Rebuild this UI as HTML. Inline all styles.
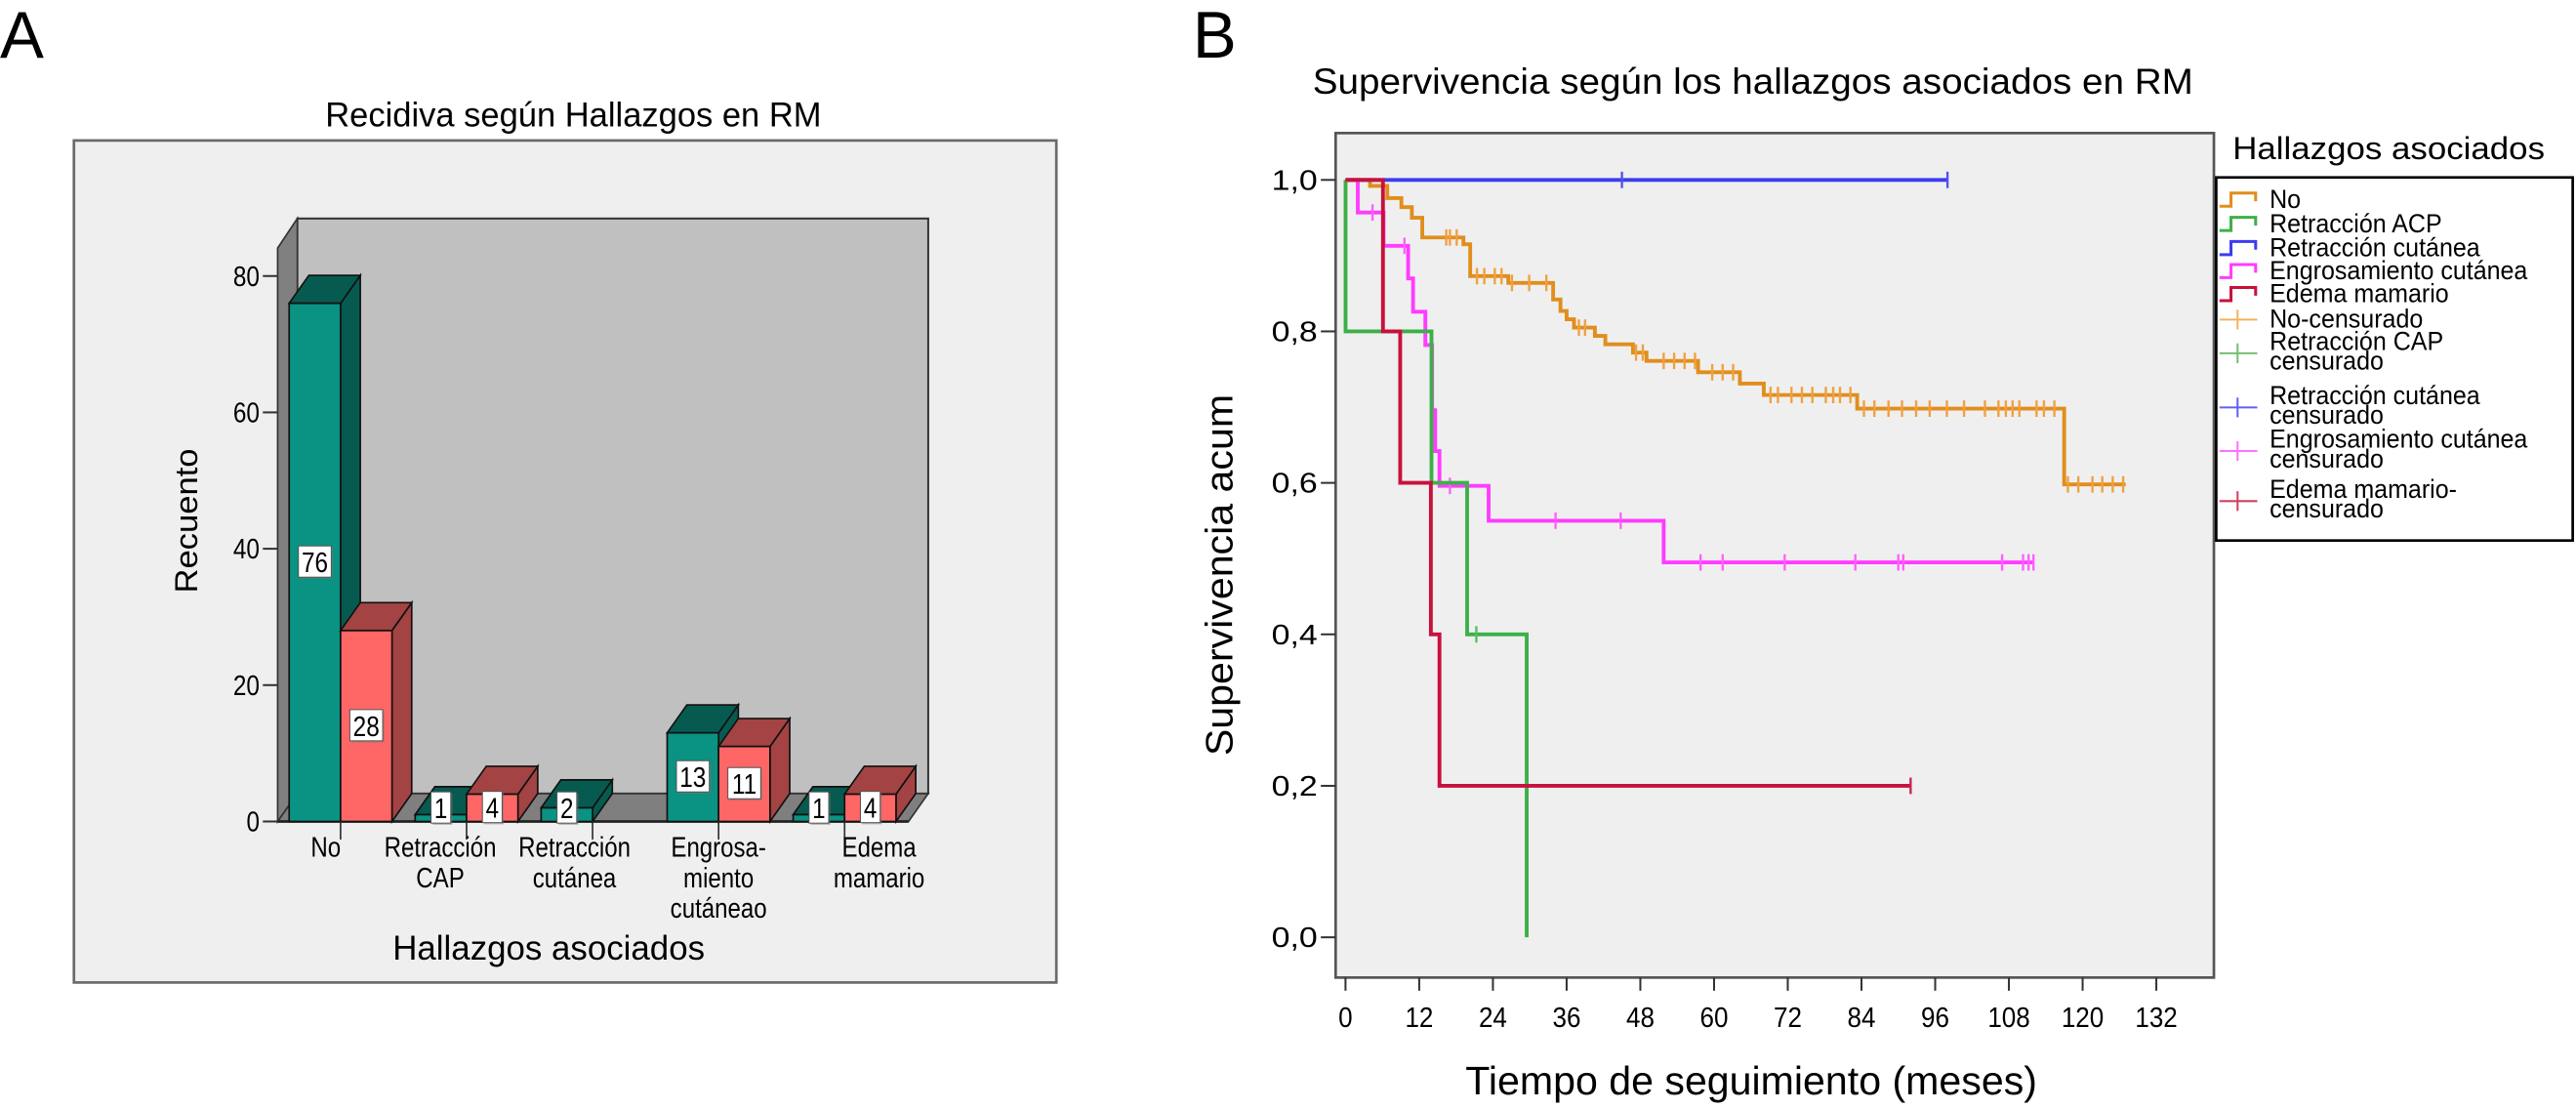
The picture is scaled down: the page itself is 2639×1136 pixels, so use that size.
<!DOCTYPE html>
<html><head><meta charset="utf-8"><style>
html,body{margin:0;padding:0;background:#fff;}
svg{display:block;font-family:"Liberation Sans",Arial,sans-serif;}
</style></head><body>
<svg id="fig" width="2639" height="1136" viewBox="0 0 1568 675" preserveAspectRatio="none" xmlns="http://www.w3.org/2000/svg">
  <text x="0" y="35" font-size="40">A</text>
  <text x="726" y="35" font-size="40">B</text>
  <g id="panelA"></g>
  <g id="panelB"></g>
</svg>
<script>
// ---------- Panel A data ----------
const categories = ['No','Retracción CAP','Retracción cutánea','Engrosamiento cutáneo','Edema mamario'];
const categoryLabelLines = [['No'],['Retracción','CAP'],['Retracción','cutánea'],['Engrosa-','miento','cutáneao'],['Edema','mamario']];
const countsNo = [76, 1, 2, 13, 1];
const countsSi = [28, 4, 0, 11, 4];
const yTicksA = [0, 20, 40, 60, 80];

// ---------- Panel B data ----------
const xTicksB = [0,12,24,36,48,60,72,84,96,108,120,132];
const yTicksB = [0,0.2,0.4,0.6,0.8,1.0];
const yTickLabelsB = ['0,0','0,2','0,4','0,6','0,8','1,0'];
const seriesNames = ['No','Retracción ACP','Retracción cutánea','Engrosamiento cutánea','Edema mamario'];
const noTimes = [4,6.8,9.1,10.8,12.5,19.2,20.3,26.5,33.8,35,36,37.2,40.6,42.3,46.8,49,57.4,64.2,68.1,83.3,117];
const noSurv  = [0.992,0.976,0.964,0.95,0.924,0.915,0.873,0.864,0.842,0.827,0.816,0.805,0.794,0.783,0.772,0.761,0.746,0.731,0.716,0.698,0.598];
const noEnd = 127;
const noCensor = [16.4,17,18.1,21.4,22.6,24.3,25.4,27.1,29.9,32.7,38,39,47.3,48.4,51.8,53.5,55.2,56.9,59.7,61.4,63.1,69.2,70.4,72.6,74.3,76,78.2,79.4,80.5,82.2,84.4,86.1,88.4,90.6,92.9,95.1,97.9,100.7,104.1,106.3,107.5,108.6,109.7,112.5,113.7,115.4,117.6,119.3,121.6,123.2,124.9,126.6];
const acpTimes = [0.01,14,19.8,29.5];
const acpSurv  = [0.8,0.6,0.4,0.0];
const acpEnd = 29.5;
const acpCensor = [21.3];
const cutTimes = [];
const cutSurv  = [];
const cutEnd = 98;
const cutCensor = [45,98];
const engTimes = [2,6.2,10.2,11,13,14.1,14.6,15.3,23.3,51.8];
const engSurv  = [0.957,0.913,0.87,0.826,0.782,0.696,0.642,0.596,0.55,0.495];
const engEnd = 112;
const engCensor = [4.4,9.6,17,34.2,44.8,57.8,61.4,71.5,83,90,90.8,106.9,110.3,111.2,112];
const edeTimes = [6.1,8.9,13.9,15.3];
const edeSurv  = [0.8,0.6,0.4,0.2];
const edeEnd = 92;
const edeCensor = [92];

const NS='http://www.w3.org/2000/svg';
function mk(tag, attrs, parent){const e=document.createElementNS(NS,tag);for(const k in attrs)e.setAttribute(k,attrs[k]);parent.appendChild(e);return e;}
function txt(str, attrs, parent){const e=mk('text',attrs,parent);e.textContent=str;return e;}
function cond(e,f){const w=e.getComputedTextLength();if(w>0){e.setAttribute('textLength',(w*f).toFixed(1));e.setAttribute('lengthAdjust','spacingAndGlyphs');}return e;}

// ================= Panel A =================
(function(){
  const g=document.getElementById('panelA');
  const base=500, unit=(500-168)/80;
  const yA=v=>base-v*unit;
  const groupX=i=>176+i*76.7;
  const bw=31.3, dx=12, dy=17;
  const fr=mk('rect',{x:45,y:85.5,width:598,height:512.5,fill:'#efefef',stroke:'#6a6a6a','stroke-width':1.6},g);
  
  const t=txt('Recidiva según Hallazgos en RM',{x:198,y:77,'font-size':21,textLength:302,lengthAdjust:'spacingAndGlyphs'},g);
  
  const wallL=169, wallR=wallL+dx, backR=565;
  const bw2=mk('rect',{x:wallR,y:133,width:backR-wallR,height:base-dy-133,fill:'#c0c0c0',stroke:'#333','stroke-width':1.2},g);
  
  const sw=mk('polygon',{points:`${wallL},151 ${wallR},133 ${wallR},${base-dy} ${wallL},${base}`,fill:'#808080',stroke:'#333','stroke-width':1},g);
  
  const fl=mk('polygon',{points:`${wallL},${base} ${wallR},${base-dy} ${backR},${base-dy} ${backR-dx},${base}`,fill:'#7f7f7f',stroke:'#333','stroke-width':1},g);
  
  mk('line',{x1:wallL,y1:base,x2:backR-dx,y2:base,stroke:'#222','stroke-width':1.6},g);
  yTicksA.forEach(v=>{
    const l=mk('line',{x1:160,y1:yA(v),x2:wallL,y2:yA(v),stroke:'#333','stroke-width':1.2},g);
    
    const tl=txt(String(v),{x:158,y:yA(v)+6,'font-size':17,'text-anchor':'end'},g);
    cond(tl,0.85);
    
  });
  function bar(x,v,front,dark,name){
    if(v<=0) return;
    const y=yA(v);
    const bg=mk('g',{},g);
    
    mk('polygon',{points:`${x+bw},${y} ${x+bw+dx},${y-dy} ${x+bw+dx},${base-dy} ${x+bw},${base}`,fill:dark,stroke:'#111','stroke-width':1},bg);
    mk('polygon',{points:`${x},${y} ${x+dx},${y-dy} ${x+bw+dx},${y-dy} ${x+bw},${y}`,fill:dark,stroke:'#111','stroke-width':1},bg);
    mk('rect',{x:x,y:y,width:bw,height:base-y,fill:front,stroke:'#111','stroke-width':1},bg);
  }
  function valLabel(x,v,name){
    if(v<=0) return;
    const cy=Math.min(base-v*unit/2, 492);
    const w=String(v).length*8+4;
    const lg=mk('g',{},g);
    
    mk('rect',{x:x+bw/2-w/2+1,y:cy-9,width:w,height:19,fill:'#777',opacity:0.5},lg);
    mk('rect',{x:x+bw/2-w/2,y:cy-10,width:w,height:19,fill:'#fff',stroke:'#555','stroke-width':0.6},lg);
    const tv=txt(String(v),{x:x+bw/2,y:cy+6,'font-size':17,'text-anchor':'middle'},lg);
    cond(tv,0.85);
  }
  categories.forEach((c,i)=>{
    const x=groupX(i);
    bar(x,countsNo[i],'#0a9282','#075a50','bar-no-recidiva-'+i);
    bar(x+bw,countsSi[i],'#ff6666','#a34343','bar-recidiva-'+i);
  });
  const labelShift=[-9,-16,-11,0,21];
  categories.forEach((c,i)=>{
    const x=groupX(i);
    valLabel(x,countsNo[i],'value-label-no-'+i);
    valLabel(x+bw,countsSi[i],'value-label-si-'+i);
    const tk=mk('line',{x1:x+bw,y1:base,x2:x+bw,y2:base+11,stroke:'#333','stroke-width':1},g);
    
    const cx=x+bw+labelShift[i];
    categoryLabelLines[i].forEach((ln,j)=>{
      const lt=txt(ln,{x:cx,y:521.5+j*18.5,'font-size':17,'text-anchor':'middle'},g);
      cond(lt,0.84);
      
    });
  });
  const xt=txt('Hallazgos asociados',{x:239,y:584,'font-size':21,textLength:190,lengthAdjust:'spacingAndGlyphs'},g);
  
  const yt=txt('Recuento',{x:0,y:0,'font-size':19,'text-anchor':'middle',transform:'translate(120,317) rotate(-90)',textLength:88,lengthAdjust:'spacingAndGlyphs'},g);
  
})();

// ================= Panel B =================
(function(){
  const g=document.getElementById('panelB');
  const xB=m=>819+m*3.739;
  const yB=s=>570.5-s*461;
  const fr=mk('rect',{x:813,y:81,width:534.6,height:514,fill:'#efefef',stroke:'#555','stroke-width':1.6},g);
  
  const t=txt('Supervivencia según los hallazgos asociados en RM',{x:799,y:57,'font-size':22,textLength:536,lengthAdjust:'spacingAndGlyphs'},g);
  
  yTicksB.forEach((v,i)=>{
    const l=mk('line',{x1:804,y1:yB(v),x2:813,y2:yB(v),stroke:'#333','stroke-width':1.2},g);
    
    const tl=txt(yTickLabelsB[i],{x:802,y:yB(v)+6,'font-size':17,'text-anchor':'end',textLength:28,lengthAdjust:'spacingAndGlyphs'},g);
    
  });
  xTicksB.forEach(v=>{
    const l=mk('line',{x1:xB(v),y1:595,x2:xB(v),y2:603,stroke:'#333','stroke-width':1.2},g);
    
    const tl=txt(String(v),{x:xB(v),y:625,'font-size':17,'text-anchor':'middle',textLength:String(v).length*8.6,lengthAdjust:'spacingAndGlyphs'},g);
    
  });
  const xt=txt('Tiempo de seguimiento (meses)',{x:1066,y:666,'font-size':24,'text-anchor':'middle',textLength:348,lengthAdjust:'spacingAndGlyphs'},g);
  
  const yt=txt('Supervivencia acum',{x:0,y:0,'font-size':23,'text-anchor':'middle',transform:'translate(750,350) rotate(-90)',textLength:220,lengthAdjust:'spacingAndGlyphs'},g);
  

  function survAt(times,surv,m){let s=1;for(let i=0;i<times.length;i++){if(times[i]<=m)s=surv[i];}return s;}
  function curve(times,surv,end,censor,color,ccolor,name){
    let d=`M${xB(0)},${yB(1)}`;
    times.forEach((tm,i)=>{d+=` H${xB(tm)} V${yB(surv[i])}`;});
    d+=` H${xB(end)}`;
    const p=mk('path',{d:d,fill:'none',stroke:color,'stroke-width':2.3},g);
    
    censor.forEach(m=>{
      const y=yB(survAt(times,surv,m));
      const c=mk('line',{x1:xB(m),y1:y-5,x2:xB(m),y2:y+5,stroke:ccolor,'stroke-width':1.4},g);
      
    });
  }
  curve(noTimes,noSurv,noEnd,noCensor,'#e08e1c','#f0a040','no');
  curve(cutTimes,cutSurv,cutEnd,cutCensor,'#3c3cf0','#5050f0','retraccion-cutanea');
  curve(engTimes,engSurv,engEnd,engCensor,'#ff3cff','#ff60ff','engrosamiento');
  curve(acpTimes,acpSurv,acpEnd,acpCensor,'#3cb048','#50c060','retraccion-acp');
  curve(edeTimes,edeSurv,edeEnd,edeCensor,'#c8103c','#d02050','edema');

  // Legend
  const lt=txt('Hallazgos asociados',{x:1359,y:97,'font-size':19,textLength:190,lengthAdjust:'spacingAndGlyphs'},g);
  
  const lb=mk('rect',{x:1349,y:108,width:217,height:221,fill:'#fff',stroke:'#000','stroke-width':1.6},g);
  
  const colors=['#e08e1c','#3cb048','#3c3cf0','#ff3cff','#c8103c'];
  const ccolors=['#f5b060','#70c070','#6060f0','#ff70ff','#d04060'];
  const censLabels=[['No-censurado'],['Retracción CAP','censurado'],['Retracción cutánea','censurado'],['Engrosamiento cutánea','censurado'],['Edema mamario-','censurado']];
  const stepY=[126.5,141.3,156,170,184];
  const censY=[199.5,213,246,272.5,303];
  seriesNames.forEach((s,i)=>{
    const e=mk('g',{},g);
    
    const y=stepY[i];
    mk('path',{d:`M1351,${y-1} H1358 V${y-9} H1373 V${y-4}`,fill:'none',stroke:colors[i],'stroke-width':1.8},e);
    cond(txt(s,{x:1381.5,y:y,'font-size':16},e),0.93);
  });
  censLabels.forEach((ls,i)=>{
    const e=mk('g',{},g);
    
    const y=censY[i];
    const my=ls.length>1?y+2:y-5;
    mk('line',{x1:1351,y1:my,x2:1374,y2:my,stroke:ccolors[i],'stroke-width':1.2},e);
    mk('line',{x1:1362,y1:my-6,x2:1362,y2:my+6,stroke:ccolors[i],'stroke-width':1.2},e);
    ls.forEach((s,j)=>cond(txt(s,{x:1381.5,y:y+j*12,'font-size':16},e),0.93));
  });
})();
</script>
</body></html>
